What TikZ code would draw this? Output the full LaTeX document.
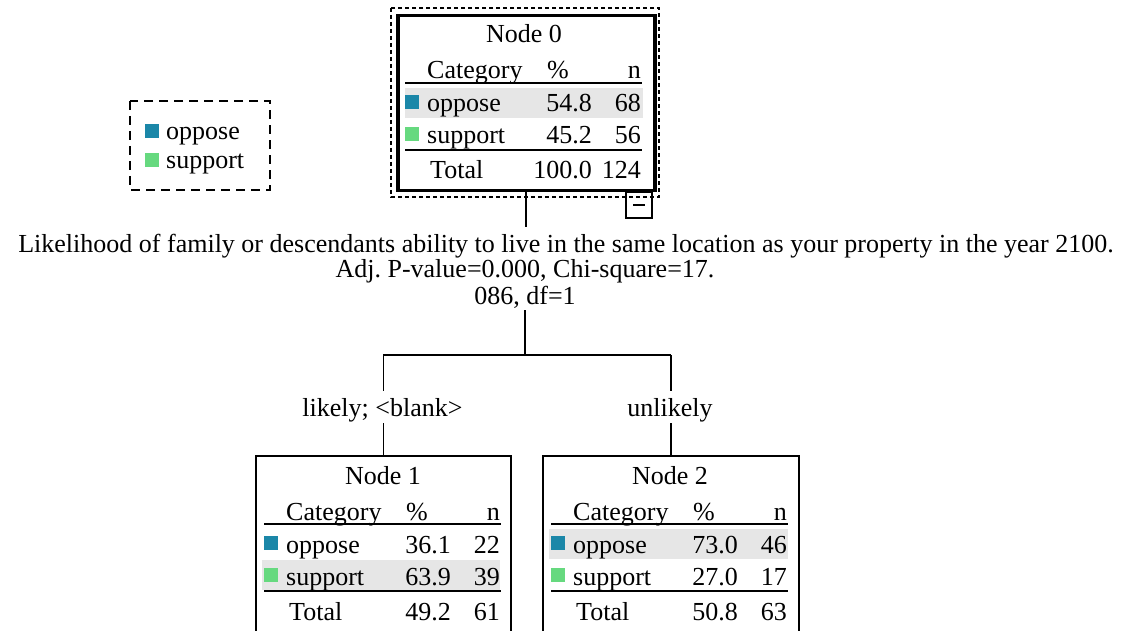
\documentclass[tikz,border=0pt]{standalone}
\usepackage{fontspec}
\setmainfont{Liberation Serif}
\usetikzlibrary{positioning, calc}
\definecolor{opposecol}{HTML}{1B87A8}
\definecolor{supportcol}{HTML}{66D97F}
\definecolor{rowgray}{HTML}{E6E6E6}

% one table of a tree node: id, left, top, then % and n of oppose, support, total
\newcommand{\treetable}[9]{%
  \begin{scope}[shift={(#2,#3)}]
    \node[cell] (t#1-title) at (128,20) {Node #1};
    \node[cell, anchor=west] (t#1-cat) at (31,56) {Category};
    \node[cell] (t#1-pct) at (162,56) {\%};
    \node[cell, anchor=east] (t#1-n) at (245,56) {n};
    \draw[rule] (9,69) -- (246,69);
    \node[swatch, fill=opposecol] (t#1-sw1) at (16,88) {};
    \node[cell, anchor=west] (t#1-opp) at (31,89) {oppose};
    \node[cell, anchor=east] (t#1-opp-p) at (196,89) {#4};
    \node[cell, anchor=east] (t#1-opp-n) at (245,89) {#5};
    \node[swatch, fill=supportcol] (t#1-sw2) at (16,120) {};
    \node[cell, anchor=west] (t#1-sup) at (31,121) {support};
    \node[cell, anchor=east] (t#1-sup-p) at (196,121) {#6};
    \node[cell, anchor=east] (t#1-sup-n) at (245,121) {#7};
    \draw[rule] (9,136) -- (246,136);
    \node[cell, anchor=west] (t#1-tot) at (34,156) {Total};
    \node[cell, anchor=east] (t#1-tot-p) at (196,156) {#8};
    \node[cell, anchor=east] (t#1-tot-n) at (245,156) {#9};
  \end{scope}}

\begin{document}
\frenchspacing
\begin{tikzpicture}[x=1pt,y=-1pt,
    cell/.style={inner sep=0pt, text height=20pt, text depth=2pt, font=\fontsize{26}{30}\selectfont},
    swatch/.style={minimum size=14pt, inner sep=0pt},
    tablebox/.style={draw, line width=1.6pt, anchor=north west, inner sep=0pt},
    link/.style={line width=1.6pt},
    rule/.style={line width=2pt},
    hilite/.style={fill=rowgray}]
  \useasboundingbox (0,0) rectangle (1130,631);
  \clip (0,0) rectangle (1130,631);

  % legend
  \draw[line width=2pt, dash pattern=on 9pt off 6pt] (130,101) rectangle (270,190);
  \node[swatch, fill=opposecol] (leg-sw1) at (152,131) {};
  \node[cell, anchor=west] (leg-opp) at (166,131) {oppose};
  \node[swatch, fill=supportcol] (leg-sw2) at (152,160) {};
  \node[cell, anchor=west] (leg-sup) at (166,160) {support};

  % root
  \fill[hilite] (405,88) rectangle (643,118);
  \node[tablebox, line width=3.5pt, minimum width=257pt, minimum height=175pt] (n0) at (396,14) {};
  \draw[line width=2pt, dash pattern=on 4pt off 3pt] (391,8) rectangle (659,197);
  \node[draw, line width=1.5pt, minimum size=26pt, inner sep=0pt] (toggle) at (639,205) {};
  \draw[line width=1.5pt] ($(toggle.center)+(-6,0)$) -- ($(toggle.center)+(6,0)$);
  \treetable{0}{396}{14}{54.8}{68}{45.2}{56}{100.0}{124}

  % split
  \node[cell] (split1) at (566,243) {Likelihood of family or descendants ability to live in the same location as your property in the year 2100.};
  \node[cell] (split2) at (525,268) {Adj. P-value=0.000, Chi-square=17.};
  \node[cell] (split3) at (525,295) {086, df=1};
  \coordinate (fork) at (525,355);

  % children
  \fill[hilite] (262,560) rectangle (500,590);
  \node[tablebox, minimum width=255pt, minimum height=200pt] (n1) at (255,455) {};
  \treetable{1}{255}{455}{36.1}{22}{63.9}{39}{49.2}{61}
  \fill[hilite] (549,529) rectangle (788,559);
  \node[tablebox, minimum width=256pt, minimum height=200pt] (n2) at (542,455) {};
  \treetable{2}{542}{455}{73.0}{46}{27.0}{17}{50.8}{63}
  \node[cell] (lab1) at (382.5,407) {likely; <blank>};
  \node[cell] (lab2) at (670,407) {unlikely};

  \draw[link, shorten >=5pt] (n0.south) -- (n0.south |- split1.north);
  \draw[link, shorten <=4pt] (split3.south) -- (fork);
  \draw[link] (n1.north |- fork) -- (n2.north |- fork);
  \draw[link, shorten >=5pt] (n1.north |- fork) -- (n1.north |- lab1.north);
  \draw[link, shorten >=5pt] (n2.north |- fork) -- (n2.north |- lab2.north);
  \draw[link, shorten <=5pt] (n1.north |- lab1.south) -- (n1.north);
  \draw[link, shorten <=5pt] (n2.north |- lab2.south) -- (n2.north);
\end{tikzpicture}
\end{document}
